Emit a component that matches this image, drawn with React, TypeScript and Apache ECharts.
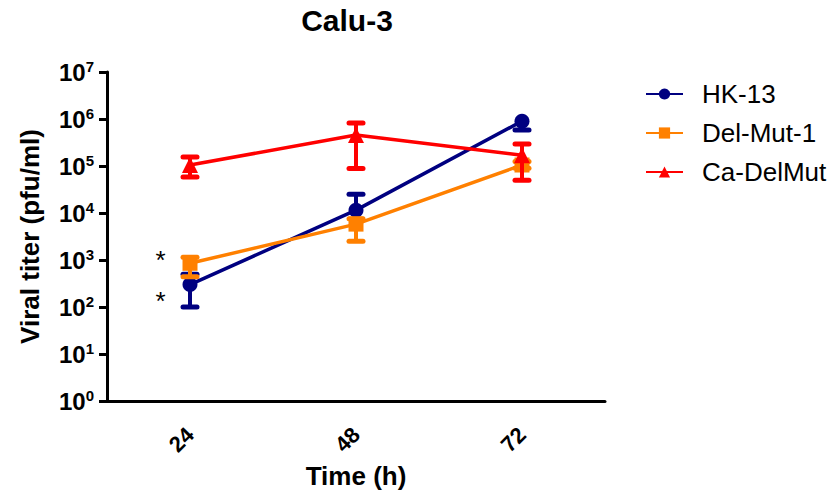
import React, { useEffect, useRef } from 'react';
import * as echarts from 'echarts';

const hours = ['24', '48', '72'];
const seriesNames = ['HK-13', 'Del-Mut-1', 'Ca-DelMut'];
const hk13Mean = [300, 11500, 900000];
const hk13Low = [100, 11500, 580000];
const hk13High = [500, 25000, 900000];
const delMutMean = [850, 5800, 105000];
const delMutLow = [440, 2500, 90000];
const delMutHigh = [1150, 7500, 125000];
const caMean = [105000, 455000, 170000];
const caLow = [58000, 88000, 50000];
const caHigh = [155000, 820000, 295000];
const hk13Marks = ['*', '', ''];
const delMutMarks = ['*', '', ''];
const caMarks = ['', '', ''];
const yMin = 1;
const yMax = 1e7;

const FONT = '"Liberation Sans", Arial, sans-serif';
const colors = ['#000080', '#FF8000', '#FF0000'];
const symbols = ['circle', 'rect', 'triangle'];
const markOffsets: [number, number][] = [[0, 16], [0, -3], [0, 0]];

export default function App() {
  const ref = useRef<HTMLDivElement>(null);
  useEffect(() => {
    if (!ref.current) return;
    const chart = echarts.init(ref.current, undefined, { renderer: 'svg' });
    const groups = [
      { mean: hk13Mean, low: hk13Low, high: hk13High, marks: hk13Marks },
      { mean: delMutMean, low: delMutLow, high: delMutHigh, marks: delMutMarks },
      { mean: caMean, low: caLow, high: caHigh, marks: caMarks },
    ];
    const series: any[] = [];
    groups.forEach((g, si) => {
      const color = colors[si];
      series.push({
        type: 'custom',
        name: seriesNames[si] + ' error',
        z: 2 + si * 2,
        encode: { x: 0, y: [1, 2, 3] },
        data: hours.map((_, i) => [i, g.mean[i], g.low[i], g.high[i]]),
        renderItem: (params: any, api: any) => {
          const idx = api.value(0);
          const mean = api.value(1);
          const low = api.value(2);
          const high = api.value(3);
          const pm = api.coord([idx, mean]);
          const pl = api.coord([idx, low]);
          const ph = api.coord([idx, high]);
          const x = pm[0];
          const hw = 7;
          const stem = { stroke: color, lineWidth: 4 };
          const cap = { stroke: color, lineWidth: 5, lineCap: 'round' };
          const children: any[] = [];
          if (low < mean) {
            children.push({ type: 'line', shape: { x1: x, y1: pm[1], x2: x, y2: pl[1] }, style: stem });
            children.push({ type: 'line', shape: { x1: x - hw, y1: pl[1], x2: x + hw, y2: pl[1] }, style: cap });
          }
          if (high > mean) {
            children.push({ type: 'line', shape: { x1: x, y1: pm[1], x2: x, y2: ph[1] }, style: stem });
            children.push({ type: 'line', shape: { x1: x - hw, y1: ph[1], x2: x + hw, y2: ph[1] }, style: cap });
          }
          return { type: 'group', children };
        },
      });
      series.push({
        type: 'line',
        name: seriesNames[si],
        z: 3 + si * 2,
        symbol: symbols[si],
        symbolSize: si === 2 ? 16 : 15,
        color,
        lineStyle: { color, width: 3.5 },
        itemStyle: { color },
        data: g.mean.map((v, i) => ({
          value: v,
          label: {
            show: !!g.marks[i],
            formatter: g.marks[i],
            position: 'left',
            distance: 17,
            offset: markOffsets[si],
            fontSize: 26,
            color: '#000',
            fontFamily: FONT,
          },
        })),
      });
    });

    chart.setOption({
      animation: false,
      backgroundColor: '#fff',
      title: {
        text: 'Calu-3',
        left: 342,
        top: 0,
        textAlign: 'center',
        textStyle: { fontSize: 30, fontWeight: 'bold', color: '#000', fontFamily: FONT },
      },
      legend: {
        data: seriesNames,
        orient: 'vertical',
        left: 640,
        top: 76,
        itemWidth: 37,
        itemHeight: 14,
        itemGap: 13,
        textStyle: { fontSize: 26, color: '#000', fontFamily: FONT, padding: [0, 0, 0, 14] },
      },
      grid: { left: 107, right: 226, top: 72, bottom: 98, containLabel: false },
      xAxis: {
        type: 'category',
        data: hours,
        boundaryGap: true,
        name: 'Time (h)',
        nameLocation: 'middle',
        nameGap: 62,
        nameTextStyle: { fontSize: 26, fontWeight: 'bold', color: '#000', fontFamily: FONT },
        axisLine: { lineStyle: { color: '#000', width: 3 } },
        axisTick: { alignWithLabel: true, length: 8, lineStyle: { color: '#000', width: 3 } },
        axisLabel: { rotate: 45, margin: 30, fontSize: 22, fontWeight: 'bold', color: '#000', fontFamily: FONT },
        splitLine: { show: false },
      },
      yAxis: {
        type: 'log',
        logBase: 10,
        min: yMin,
        max: yMax,
        splitNumber: 7,
        name: 'Viral titer (pfu/ml)',
        nameLocation: 'middle',
        nameGap: 64,
        nameTextStyle: { fontSize: 26, fontWeight: 'bold', color: '#000', fontFamily: FONT },
        axisLine: { show: true, lineStyle: { color: '#000', width: 3 } },
        axisTick: { show: true, length: 8, lineStyle: { color: '#000', width: 3 } },
        splitLine: { show: false },
        axisLabel: {
          margin: 13,
          color: '#000',
          fontFamily: FONT,
          formatter: (v: number) => `{b|10}{s|${Math.round(Math.log10(v))}}`,
          rich: {
            b: { fontSize: 24, fontWeight: 'bold', color: '#000', fontFamily: FONT, lineHeight: 26 },
            s: { fontSize: 15, fontWeight: 'bold', color: '#000', fontFamily: FONT, verticalAlign: 'top', lineHeight: 16 },
          },
        },
      },
      series,
    });
    return () => chart.dispose();
  }, []);
  return <div ref={ref} style={{ position: 'absolute', left: 0, top: 0, width: 831, height: 499 }} />;
}
